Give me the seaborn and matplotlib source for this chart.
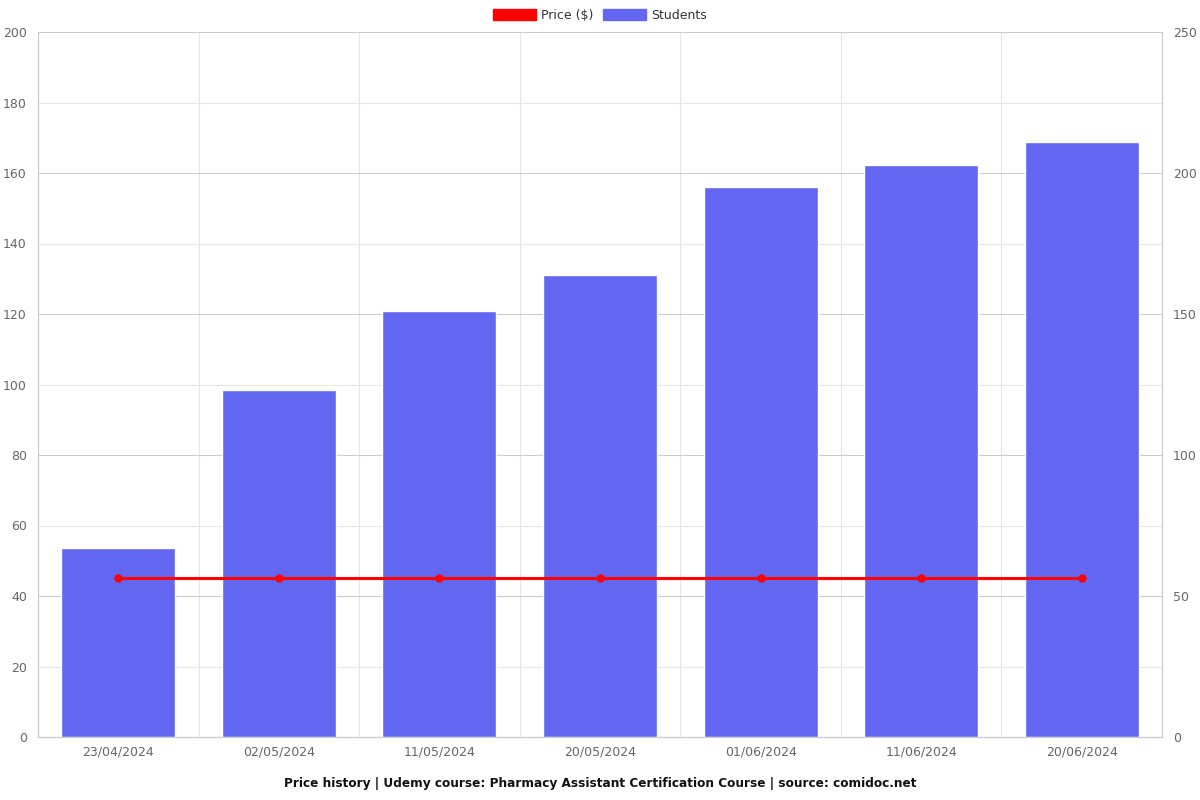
import matplotlib
matplotlib.use('Agg')
import matplotlib.pyplot as plt
import seaborn as sns
import pandas as pd
from matplotlib.patches import Patch

dates = ['23/04/2024', '02/05/2024', '11/05/2024', '20/05/2024', '01/06/2024', '11/06/2024', '20/06/2024']
students = [67, 123, 151, 164, 195, 203, 211]
price = [45, 45, 45, 45, 45, 45, 45]

df = pd.DataFrame({'date': dates, 'students': students, 'price': price})

sns.set_style('white')
plt.rcParams['font.family'] = ['DejaVu Sans']

fig = plt.figure(figsize=(12, 8), dpi=100)
ax = fig.add_axes([38 / 1200, 63 / 800, 1124 / 1200, 705 / 800])

# bars on the primary axes, scale shown on the right
sns.barplot(data=df, x='date', y='students', color='#6366f1', saturation=1,
            width=0.71, ax=ax, zorder=2)
ax.set_ylim(0, 250)
ax.set_yticks(range(0, 251, 50))
ax.set_yticks(range(0, 251, 25), minor=True)

ax2 = ax.twinx()
ax2.plot(range(len(dates)), df['price'], color='#ff0000', lw=2.2, marker='o', ms=5, zorder=3)
ax2.set_ylim(0, 200)
ax2.set_yticks(range(0, 201, 20))
ax2.yaxis.tick_left()
ax.yaxis.tick_right()

ax.set_xlim(-0.5, len(dates) - 0.5)
ax.set_xticks([i - 0.5 for i in range(len(dates) + 1)], minor=True)
# grid lines only from the bar axes, so they stay behind the bars
ax.grid(which='minor', axis='both', color='#e6e6e6', lw=0.8)
ax.grid(which='major', axis='y', color='#cccccc', lw=0.8)
ax.set_axisbelow(True)
ax.tick_params(axis='x', which='major', length=0, pad=6, labelsize=9, labelcolor='#666666')
ax.tick_params(axis='x', which='minor', length=7, color='#cccccc')
ax.tick_params(axis='y', which='both', length=0, pad=8, labelsize=9, labelcolor='#666666')
ax2.tick_params(axis='y', length=0, pad=8, labelsize=9, labelcolor='#666666')
ax.set_xlabel('')
ax.set_ylabel('')
ax2.set_ylabel('')

for a in (ax, ax2):
    for s in a.spines.values():
        s.set_color('#cccccc')
        s.set_linewidth(0.8)
    a.spines['top'].set_visible(False)

handles = [Patch(facecolor='#ff0000', edgecolor='#ff0000'),
           Patch(facecolor='#6366f1', edgecolor='#6366f1')]
fig.legend(handles, ['Price ($)', 'Students'], loc='upper center', bbox_to_anchor=(0.5, 1.003),
           ncol=2, frameon=False, fontsize=9, handlelength=3.4, handleheight=1.05,
           columnspacing=0.8, handletextpad=0.4, labelcolor='#333333')

fig.text(0.5, 0.021, 'Price history | Udemy course: Pharmacy Assistant Certification Course | source: comidoc.net',
         ha='center', va='center', fontsize=8.7, fontweight='bold', color='#111111')

fig.savefig('out.png', dpi=100)
